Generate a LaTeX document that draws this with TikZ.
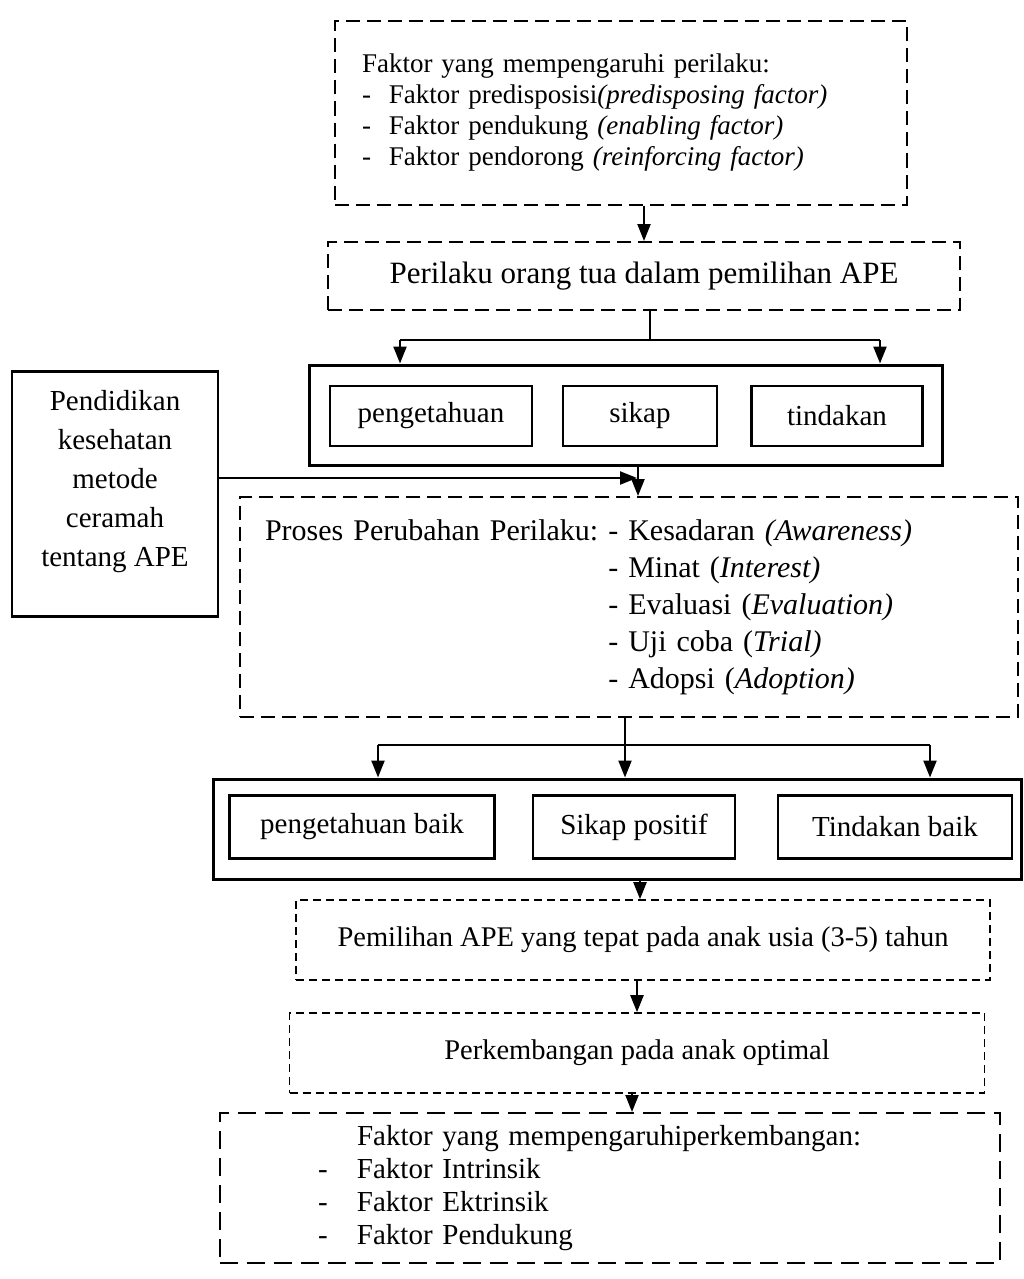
\documentclass[tikz,border=0pt]{standalone}
\usepackage{fontspec}
\setmainfont{Liberation Serif}
\usetikzlibrary{arrows.meta}

\tikzset{
  longdash/.style={draw, line width=2pt, dash pattern=on 14pt off 7pt},
  shortdash/.style={draw, line width=1.6pt, dash pattern=on 8pt off 5pt},
  plainbox/.style={draw, line width=2.4pt},
  outerbox/.style={draw, line width=3pt},
  conn/.style={line width=2.2pt},
  arr/.style={conn, -{Triangle[length=17pt,width=13pt]}},
}

\begin{document}
\begin{tikzpicture}[x=1pt,y=-1pt]
\useasboundingbox (0,0) rectangle (1024,1279);
\node[longdash, minimum width=572pt, minimum height=183pt, text width=518pt, inner xsep=27pt, align=left, font=\fontsize{27}{31}\selectfont] (faktor) at (621,113) {Faktor yang mempengaruhi perilaku:\\ -\ \ Faktor predisposisi\textit{(predisposing factor)}\\ -\ \ Faktor pendukung \textit{(enabling factor)}\\ -\ \ Faktor pendorong \textit{(reinforcing factor)}};
\node[longdash, minimum width=632pt, minimum height=68pt, font=\fontsize{31}{36}\selectfont] (perilaku) at (644,276) {Perilaku orang tua dalam pemilihan APE};
\node[outerbox, minimum width=633pt, minimum height=100pt] (aspek) at (626,415) {};
\node[plainbox, minimum width=202pt, minimum height=60pt, font=\fontsize{29}{34}\selectfont] (tahu) at (431,416) {pengetahuan};
\node[plainbox, minimum width=154pt, minimum height=60pt, font=\fontsize{29}{34}\selectfont] (sikap) at (640,416) {sikap};
\node[plainbox, minimum width=171pt, minimum height=60pt, font=\fontsize{29}{34}\selectfont] (tindak) at (837,416) {tindakan};
\node[plainbox, minimum width=206pt, minimum height=245pt, align=center, font=\fontsize{29}{39}\selectfont] (penkes) at (115,494) {Pendidikan\\kesehatan\\metode\\ceramah\\tentang APE\rule[-32pt]{0pt}{0pt}};
\node[longdash, minimum width=778pt, minimum height=220pt, text width=728pt, inner xsep=25pt, align=left, font=\fontsize{30}{37}\selectfont] (proses) at (629,607) {\begin{tabular}{@{}l@{\ }l@{}}
Proses Perubahan Perilaku: & - Kesadaran \textit{(Awareness)}\\
 & - Minat (\textit{Interest)}\\
 & - Evaluasi (\textit{Evaluation)}\\
 & - Uji coba (\textit{Trial)}\\
 & - Adopsi (\textit{Adoption)}
\end{tabular}};
\node[outerbox, minimum width=808pt, minimum height=100pt] (hasil) at (617,829) {};
\node[plainbox, minimum width=265pt, minimum height=63pt, font=\fontsize{29}{34}\selectfont] (tahubaik) at (362,827) {pengetahuan baik};
\node[plainbox, minimum width=202pt, minimum height=63pt, font=\fontsize{29}{34}\selectfont] (sikappos) at (634,827) {Sikap positif};
\node[plainbox, minimum width=234pt, minimum height=63pt, font=\fontsize{29}{34}\selectfont] (tindakbaik) at (895,827) {Tindakan baik};
\node[shortdash, minimum width=694pt, minimum height=80pt, font=\fontsize{28.5}{34}\selectfont] (pilih) at (643,940) {Pemilihan APE yang tepat pada anak usia (3-5) tahun};
\node[shortdash, minimum width=695pt, minimum height=80pt, font=\fontsize{28.5}{34}\selectfont] (kembang) at (637,1053) {Perkembangan pada anak optimal};
\node[longdash, dash pattern=on 18pt off 9pt, minimum width=780pt, minimum height=150pt, text width=584pt, inner xsep=98pt, align=left, font=\fontsize{29}{33}\selectfont] (faktorkem) at (610,1188) {\begin{tabular}{@{}p{39pt}@{}l@{}}
 & Faktor yang mempengaruhiperkembangan:\\
- & Faktor Intrinsik\\
- & Faktor Ektrinsik\\
- & Faktor Pendukung
\end{tabular}};

\draw[arr] (perilaku.north |- faktor.south) -- (perilaku.north);
\coordinate (pisah) at (650,340);
\coordinate (pisahA) at (400,340);
\coordinate (pisahB) at (880,340);
\draw[conn] (perilaku.south -| pisah) -- (pisah);
\draw[conn] (pisahA) -- (pisahB);
\draw[arr] (pisahA) -- (pisahA |- aspek.north);
\draw[arr] (pisahB) -- (pisahB |- aspek.north);
\coordinate (temu) at (637,478);
\draw[arr] (penkes.east |- temu) -- (temu);
\draw[arr] ([xshift=12pt]aspek.south) -- ([xshift=12pt]aspek.south |- proses.north);
\coordinate (cabangT) at (625,745);
\coordinate (cabangA) at (378,745);
\coordinate (cabangB) at (930,745);
\draw[conn] (proses.south -| cabangT) -- (cabangT);
\draw[conn] (cabangA) -- (cabangB);
\draw[arr] (cabangA) -- (cabangA |- hasil.north);
\draw[arr] (cabangT) -- (cabangT |- hasil.north);
\draw[arr] (cabangB) -- (cabangB |- hasil.north);
\draw[arr] ([xshift=23pt]hasil.south) -- ([xshift=23pt]hasil.south |- pilih.north);
\draw[arr] (kembang.north |- pilih.south) -- (kembang.north);
\draw[arr] ([xshift=-5pt]kembang.south) -- ([xshift=-5pt]kembang.south |- faktorkem.north);
\end{tikzpicture}
\end{document}
